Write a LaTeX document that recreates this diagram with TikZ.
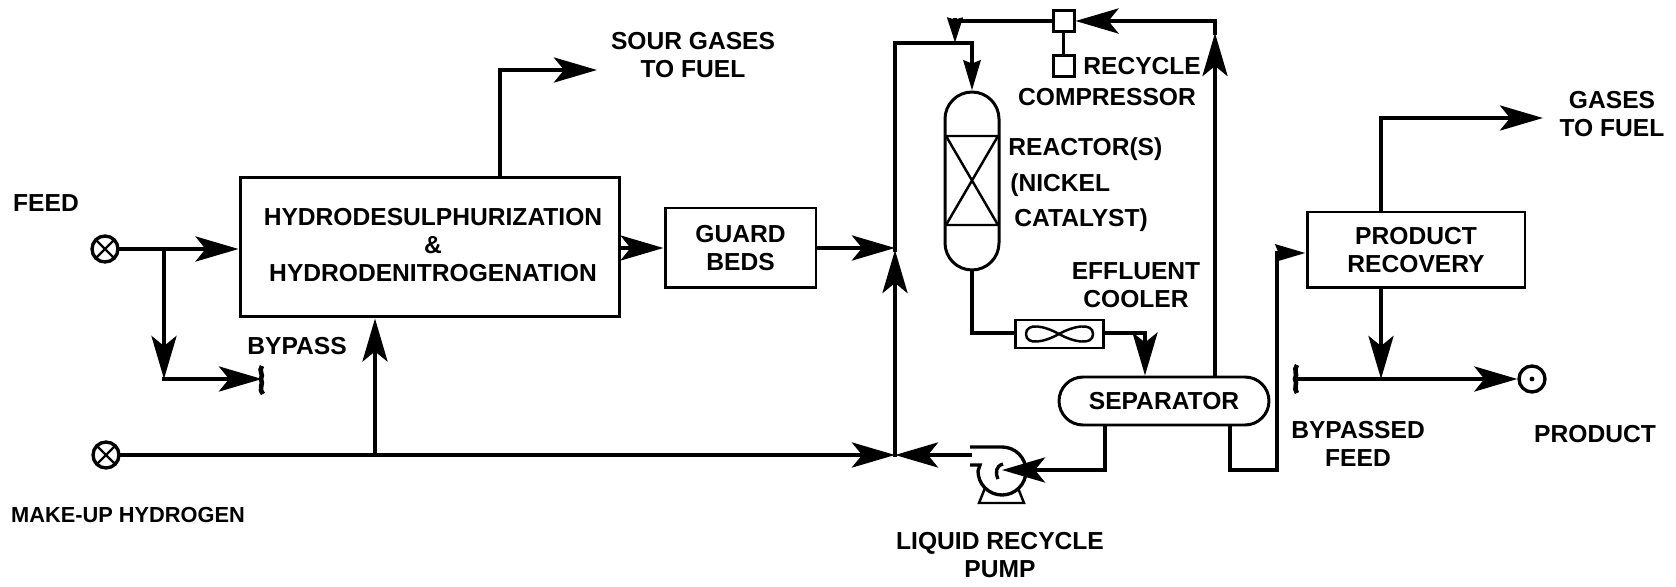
\documentclass[tikz,border=0pt]{standalone}
\usepackage{fontspec}
\setmainfont{Liberation Sans}
\usetikzlibrary{arrows.meta,positioning,calc}

\begin{document}
\begin{tikzpicture}[
  x=0.02cm, y=-0.02cm,
  font=\bfseries\fontsize{14}{16.2}\selectfont,
  pipe/.style={line width=2.6pt, line join=miter, line cap=rect},
  flow/.style={pipe, -{Stealth[length=0.86cm, width=0.5cm, inset=0.2cm]}},
  shortflow/.style={pipe, -{Stealth[length=0.6cm, width=0.34cm, inset=0.06cm]}},
  stubflow/.style={pipe, line cap=butt, -{Stealth[length=0.5cm, width=0.3cm, inset=0.03cm]}},
  unit/.style={draw, line width=1.7pt, align=center, inner sep=0pt},
  port/.style={draw, circle, line width=1.9pt, minimum size=0.52cm, inner sep=0pt},
  lab/.style={inner sep=0pt, align=center},
  leftlab/.style={lab, anchor=west},
  thin/.style={line width=1.4pt}
]
\useasboundingbox (0,0) rectangle (1676,587);
\fill[white] (0,0) rectangle (1676,587);

\node[port] (feed) at (105,249) {};
\node[port] (hydrogen) at (106,455) {};
\node[port] (product) at (1532,379) {};
\node[unit, minimum width=7.6cm, minimum height=2.8cm] (hds) at (430,247) {};
\node[unit, minimum width=3.02cm, minimum height=1.6cm] (guard) at (740.5,248) {};
\node[unit, minimum width=4.36cm, minimum height=1.52cm] (recovery) at (1416,250) {};
\node[unit, rounded corners=0.54cm, minimum width=1.08cm, minimum height=3.56cm] (reactor) at (972,181) {};
\node[unit, rounded corners=0.48cm, minimum width=4.2cm, minimum height=0.96cm] (separator) at (1164,401) {};
\node[unit, minimum width=1.76cm, minimum height=0.56cm] (cooler) at (1059,334) {};
\node[unit, minimum size=0.42cm] (valve) at (1063.5,21) {};
\node[unit, minimum size=0.42cm] (compressor) at (1063.5,66) {};
\coordinate (pump) at (1002,470);

\coordinate (feedjoin) at (164,249);
\coordinate (bypassturn) at (164,379);
\coordinate (bypassend) at (262,379);
\coordinate (h2riser) at (375,455);
\coordinate (sourturn) at (500,70);
\coordinate (sourend) at (597,70);
\coordinate (mix) at (895,455);
\coordinate (mixtop) at (895,250);
\coordinate (topleft) at (895,43);
\coordinate (topjoin) at (955,43);
\coordinate (topturn) at (972,43);
\coordinate (recycleturn) at (955,21);
\coordinate (recyclecorner) at (1215,21);
\coordinate (recycletip) at (1215,33);
\coordinate (reactorout) at (972,333);
\coordinate (coolerturn) at (1145,333);
\coordinate (pumpout) at (970,455);
\coordinate (liquidturn) at (1105,470);
\coordinate (feedturn) at (1230,470);
\coordinate (feedup) at (1277,470);
\coordinate (feedtop) at (1277,253);
\coordinate (gasturn) at (1381,118);
\coordinate (gasend) at (1543,118);
\coordinate (productjoin) at (1381,379);
\coordinate (productstart) at (1295,379);

\draw[thin] (feed.45) -- (feed.225) (feed.135) -- (feed.315);
\draw[thin] (hydrogen.45) -- (hydrogen.225) (hydrogen.135) -- (hydrogen.315);
\fill (product) circle (2.4);
\draw[thin] (946,136) -- (998,136) -- (946,225) -- (998,225) -- (946,136);
\draw[thin] (1059,334) .. controls (1045,326) and (1026,322) .. (1026,334) .. controls (1026,346) and (1045,342) .. (1059,334) .. controls (1073,326) and (1093,322) .. (1093,334) .. controls (1093,346) and (1073,342) .. (1059,334);

\draw[line width=1.9pt] (970,447) -- (1002,447) arc[start angle=-90, end angle=180, radius=24] -- (980,465) -- (970,465);
\draw[thin] (985,488) -- (979,503) -- (1024,503) -- (1018,488);
\draw[line width=1.9pt] (1003,464) .. controls (996,466) and (995,472) .. (998,479);

\draw[pipe, line cap=butt] (262,366) .. controls (258,371) and (264,374) .. (261,379) .. controls (264,384) and (258,388) .. (263,394);
\draw[pipe, line cap=butt] (1297,365) .. controls (1293,370) and (1298,374) .. (1295,379) .. controls (1298,384) and (1293,388) .. (1297,393);

\draw[flow] (feed) -- (feed -| hds.west);
\draw[flow] (feedjoin) -- (bypassturn);
\draw[flow] (bypassturn) -- (bypassend);
\draw[flow] (h2riser) -- (h2riser |- hds.south);
\draw[pipe] (hydrogen) -- (h2riser);
\draw[flow] (h2riser) -- (mix);
\draw[flow] (pumpout) -- (mix);
\draw[pipe] (hds.north -| sourturn) -- (sourturn);
\draw[flow] (sourturn) -- (sourend);
\draw[flow] (hds.east |- guard) -- (guard.west);
\draw[flow] (guard.east) -- (guard.east -| mix);
\draw[flow] (mix) -- (mixtop);
\draw[pipe] (mixtop) -- (topleft) -- (topturn);
\draw[shortflow] (topturn) -- (reactor.north);
\draw[flow] (recyclecorner) -- (valve.east);
\draw[pipe] (valve.west) -- (recycleturn);
\draw[stubflow] ($(recycleturn)+(0,-3)$) -- (topjoin);
\draw[line width=1.9pt] (valve) -- (compressor);
\draw[flow] (separator.north -| recyclecorner) -- (recycletip);
\draw[pipe] (recycletip) -- (recyclecorner);
\draw[pipe] (reactor.south) -- (reactorout) -- (cooler.west |- reactorout);
\draw[pipe] (cooler.east |- coolerturn) -- (coolerturn);
\draw[flow] (coolerturn) -- (coolerturn |- separator.north);
\draw[pipe] (separator.south -| liquidturn) -- (liquidturn);
\draw[flow] (liquidturn) -- (pump);
\draw[pipe] (separator.south -| feedturn) -- (feedturn) -- (feedup) -- (feedtop);
\draw[shortflow] (feedtop) -- (feedtop -| recovery.west);
\draw[pipe] (recovery.north -| gasturn) -- (gasturn);
\draw[flow] (gasturn) -- (gasend);
\draw[flow] (recovery.south -| gasturn) -- (productjoin);
\draw[flow] (productstart) -- (product.west);

\node[lab] (hdstext) at (433,245) {HYDRODESULPHURIZATION\\\&\\HYDRODENITROGENATION};
\node[lab] (guardtext) at (guard) {GUARD\\BEDS};
\node[lab] (recoverytext) at (recovery) {PRODUCT\\RECOVERY};
\node[lab] (separatortext) at (separator) {SEPARATOR};
\node[lab] (feedlabel) at (46,203) {FEED};
\node[lab] (bypasslabel) at (297,346) {BYPASS};
\node[lab, font=\bfseries\fontsize{12.4}{15}\selectfont] (hydrogenlabel) at (128,515) {MAKE-UP HYDROGEN};
\node[lab] (sourlabel) at (693,55) {SOUR GASES\\TO FUEL};
\node[leftlab] (recyclelabel) at (1083,66) {RECYCLE};
\node[lab] (compressorlabel) at (1107,97) {COMPRESSOR};
\node[leftlab] (reactorlabel) at (1008,149) {REACTOR(S)};
\node[leftlab] (nickellabel) at (1010,185) {(NICKEL};
\node[leftlab] (catalystlabel) at (1014,220) {CATALYST)};
\node[lab] (coolerlabel) at (1136,285) {EFFLUENT\\COOLER};
\node[lab] (pumplabel) at (1000,555) {LIQUID RECYCLE\\PUMP};
\node[lab] (bypassedlabel) at (1358,444) {BYPASSED\\FEED};
\node[lab] (productlabel) at (1595,434) {PRODUCT};
\node[lab] (gaslabel) at (1612,114) {GASES\\TO FUEL};
\end{tikzpicture}
\end{document}
